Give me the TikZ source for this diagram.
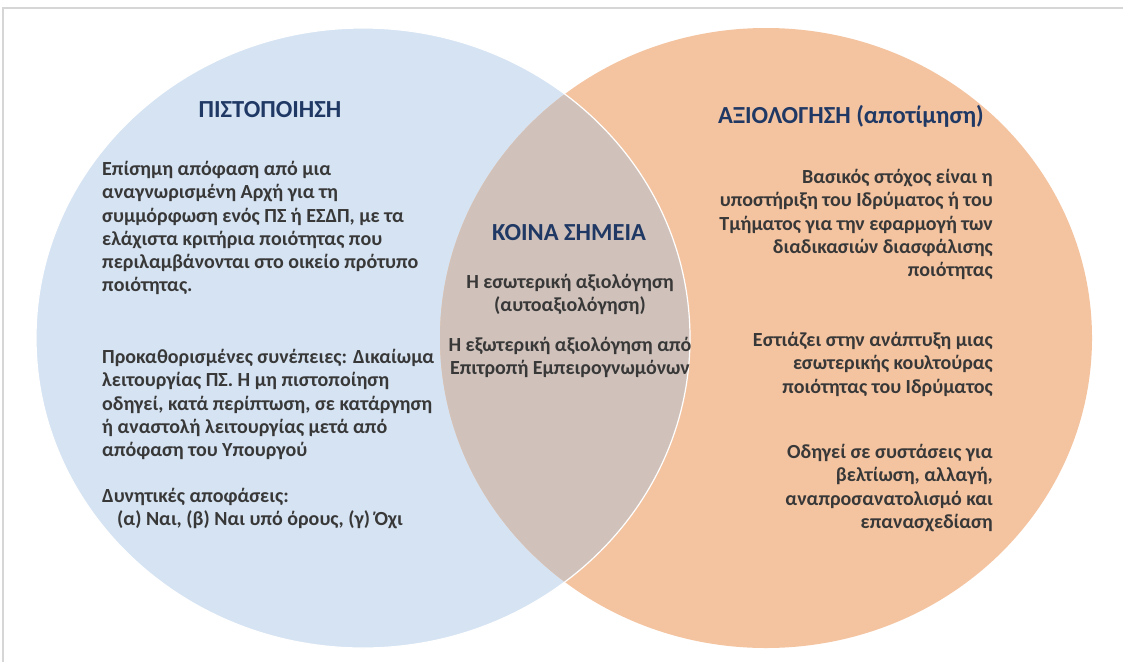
\documentclass[tikz,border=0pt]{standalone}
\usepackage{fontspec}
\setmainfont{Carlito}
\definecolor{bluefill}{HTML}{D5E3F3}
\definecolor{orangefill}{HTML}{F4C4A1}
\definecolor{overlapfill}{HTML}{D0C2BB}
\definecolor{txt}{HTML}{383838}
\definecolor{navy}{HTML}{1F3864}
\definecolor{framegray}{HTML}{D6D6D6}
\tikzset{
  bodytext/.style={font=\fontsize{20}{23.3}\selectfont\bfseries, text=txt, inner sep=0pt},
  titletext/.style={font=\fontsize{24.5}{28}\selectfont\bfseries, text=navy, inner sep=0pt},
}
\begin{document}
\begin{tikzpicture}[x=1pt,y=-1pt]
\useasboundingbox (0,0) rectangle (1123,662);
\fill[white] (0,0) rectangle (1123,662);
% frame
\draw[framegray, line width=1.5pt] (3,662) -- (3,8) -- (1123,8);
% circles
\fill[bluefill] (363,338) ellipse [x radius=327pt, y radius=310pt];
\fill[orangefill] (766,338) ellipse [x radius=326pt, y radius=310pt];
\begin{scope}
  \clip (363,338) ellipse [x radius=327pt, y radius=310pt];
  \fill[overlapfill] (766,338) ellipse [x radius=326pt, y radius=310pt];
\end{scope}
\draw[white, line width=1.2pt] (363,338) ellipse [x radius=327pt, y radius=310pt];

% left
\node[titletext] (ltitle) at (270,110) {ΠΙΣΤΟΠΟΙΗΣΗ};
\node[bodytext, align=left, anchor=north west] (lp1) at (102,161) {Επίσημη απόφαση από μια\\αναγνωρισμένη Αρχή για τη\\συμμόρφωση ενός ΠΣ ή ΕΣΔΠ, με τα\\ελάχιστα κριτήρια ποιότητας που\\περιλαμβάνονται στο οικείο πρότυπο\\ποιότητας.};
\node[bodytext, align=left, anchor=north west] (lp2) at (102,349) {Προκαθορισμένες συνέπειες: Δικαίωμα\\λειτουργίας ΠΣ. Η μη πιστοποίηση\\οδηγεί, κατά περίπτωση, σε κατάργηση\\ή αναστολή λειτουργίας μετά από\\απόφαση του Υπουργού};
\node[bodytext, align=left, anchor=north west] (lp3) at (102,488) {Δυνητικές αποφάσεις:\\\hspace*{15pt}(α) Ναι, (β) Ναι υπό όρους, (γ) Όχι};

% center
\node[titletext] (ctitle) at (569,233) {ΚΟΙΝΑ ΣΗΜΕΙΑ};
\node[bodytext, align=center, anchor=north] (cp1) at (570,274) {Η εσωτερική αξιολόγηση\\(αυτοαξιολόγηση)};
\node[bodytext, align=center, anchor=north] (cp2) at (570,337) {Η εξωτερική αξιολόγηση από\\Επιτροπή Εμπειρογνωμόνων};

% right
\node[titletext] (rtitle) at (851,116) {ΑΞΙΟΛΟΓΗΣΗ (αποτίμηση)};
\node[bodytext, align=right, anchor=north east] (rp1) at (993,169) {Βασικός στόχος είναι η\\υποστήριξη του Ιδρύματος ή του\\Τμήματος για την εφαρμογή των\\διαδικασιών διασφάλισης\\ποιότητας};
\node[bodytext, align=right, anchor=north east] (rp2) at (993,332) {Εστιάζει στην ανάπτυξη μιας\\εσωτερικής κουλτούρας\\ποιότητας του Ιδρύματος};
\node[bodytext, align=right, anchor=north east] (rp3) at (993,444) {Οδηγεί σε συστάσεις για\\βελτίωση, αλλαγή,\\αναπροσανατολισμό και\\επανασχεδίαση};
\end{tikzpicture}
\end{document}
